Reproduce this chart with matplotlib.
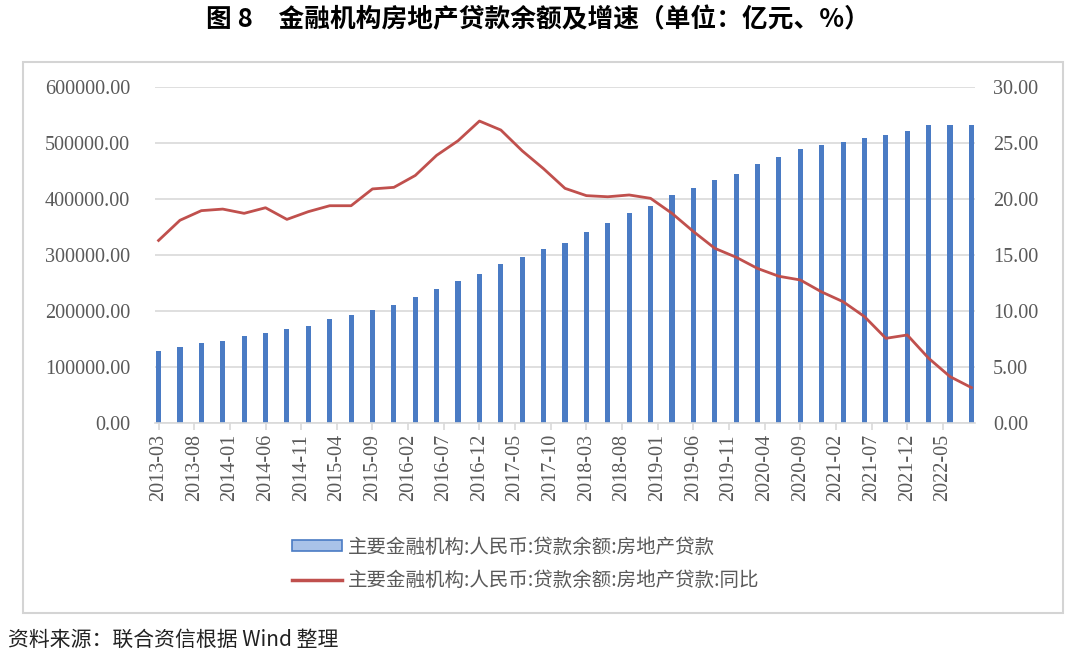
import matplotlib
matplotlib.use("Agg")
import matplotlib.pyplot as plt
from matplotlib.patches import Rectangle, Patch
from matplotlib.lines import Line2D
import pandas as pd

# ---- data ----
quarters = pd.period_range("2013-03", "2022-09", freq="3M").strftime("%Y-%m").tolist()
loan_balance = [129200, 136300, 142300, 146400, 155400, 161300, 167900, 173800,
                185100, 192900, 201800, 210100, 225600, 239900, 253000, 265500,
                284500, 297000, 310100, 320800, 340200, 357700, 375000, 388100,
                407100, 419600, 433900, 444600, 461900, 475000, 489300, 495800,
                501200, 508300, 514900, 521400, 531500, 532000, 532200]
yoy_growth = [16.3, 18.1, 18.96, 19.1, 18.72, 19.22, 18.18, 18.87,
              19.4, 19.4, 20.9, 21.04, 22.1, 23.9, 25.2, 26.96,
              26.16, 24.3, 22.7, 20.95, 20.3, 20.2, 20.36, 20.06,
              18.72, 17.1, 15.6, 14.8, 13.8, 13.1, 12.77, 11.7,
              10.83, 9.5, 7.56, 7.86, 5.78, 4.14, 3.16]
tick_labels = pd.period_range("2013-03", "2022-05", freq="5M").strftime("%Y-%m").tolist()
left_ticks = [0, 100000, 200000, 300000, 400000, 500000, 600000]
right_ticks = [0, 5, 10, 15, 20, 25, 30]

def month_index(s):
    y, m = map(int, s.split("-"))
    return (y - 2013) * 12 + (m - 3)

xq = [month_index(q) for q in quarters]
xt = [month_index(t) for t in tick_labels]

W, H = 1078, 660
fig = plt.figure(figsize=(W / 100, H / 100), dpi=100)
fig.patch.set_facecolor("white")

serif = ["Liberation Serif", "DejaVu Serif"]
cjk = ["Noto Sans CJK SC", "DejaVu Sans"]
gray = "#595959"
bar_color = "#4a7bc4"
line_color = "#c0504d"

# outer frame
fig.patches.append(Rectangle((23 / W, 1 - 613 / H), (1063 - 23) / W, (613 - 62) / H,
                             transform=fig.transFigure, fill=False,
                             edgecolor="#d4d4d4", linewidth=1.5, zorder=0))

ax = fig.add_axes([155 / W, 1 - 423 / H, 820 / W, 336 / H])
ax2 = ax.twinx()

ax.bar(xq, loan_balance, width=0.72, color=bar_color, zorder=2)
ax2.plot(xq, yoy_growth, color=line_color, linewidth=2.0, zorder=3)

ax.set_xlim(-0.5, 114.5)
ax.set_ylim(0, 600000)
ax2.set_ylim(0, 30)
ax.set_yticks(left_ticks)
ax.set_yticklabels([f"{v:.2f}" for v in left_ticks], fontfamily=serif, fontsize=14.5, color=gray)
ax2.set_yticks(right_ticks)
ax2.set_yticklabels([f"{v:.2f}" for v in right_ticks], fontfamily=serif, fontsize=14.5, color=gray)
ax.set_xticks(xt)
ax.set_xticklabels(tick_labels, rotation=90, fontfamily=serif, fontsize=14.5, color=gray)

ax.yaxis.grid(True, color="#d9d9d9", linewidth=1.2, zorder=0)
ax.set_axisbelow(True)
for a in (ax, ax2):
    for s in ("top", "left", "right", "bottom"):
        a.spines[s].set_visible(False)
ax.spines["bottom"].set_visible(True)
ax.spines["bottom"].set_color("#d9d9d9")
ax.spines["bottom"].set_linewidth(1.2)
ax.tick_params(axis="y", length=0, pad=18)
ax2.tick_params(axis="y", length=0, pad=13)
ax.tick_params(axis="x", length=5, color="#d9d9d9", width=1.2, pad=3)

# legend
handles = [Patch(facecolor="#a9c2e8", edgecolor="#4a7bc4", linewidth=1.2),
           Line2D([0], [0], color=line_color, linewidth=2.5)]
labels = ["主要金融机构:人民币:贷款余额:房地产贷款", "主要金融机构:人民币:贷款余额:房地产贷款:同比"]
leg = fig.legend(handles, labels, loc="upper left", bbox_to_anchor=(274 / W, 1 - 519 / H),
                 frameon=False, prop={"family": cjk, "size": 14}, labelcolor=gray,
                 handlelength=2.6, handleheight=0.55, handletextpad=0.3, labelspacing=0.65)

fig.text(538 / W, 1 - 20 / H, "图 8　金融机构房地产贷款余额及增速（单位：亿元、%）",
         ha="center", va="center", fontfamily=cjk, fontsize=18.5, fontweight="bold")
fig.text(8 / W, 1 - 640 / H, "资料来源：联合资信根据 Wind 整理",
         ha="left", va="center", fontfamily=cjk, fontsize=15, color="#222222")

fig.savefig("out.png", dpi=100)
